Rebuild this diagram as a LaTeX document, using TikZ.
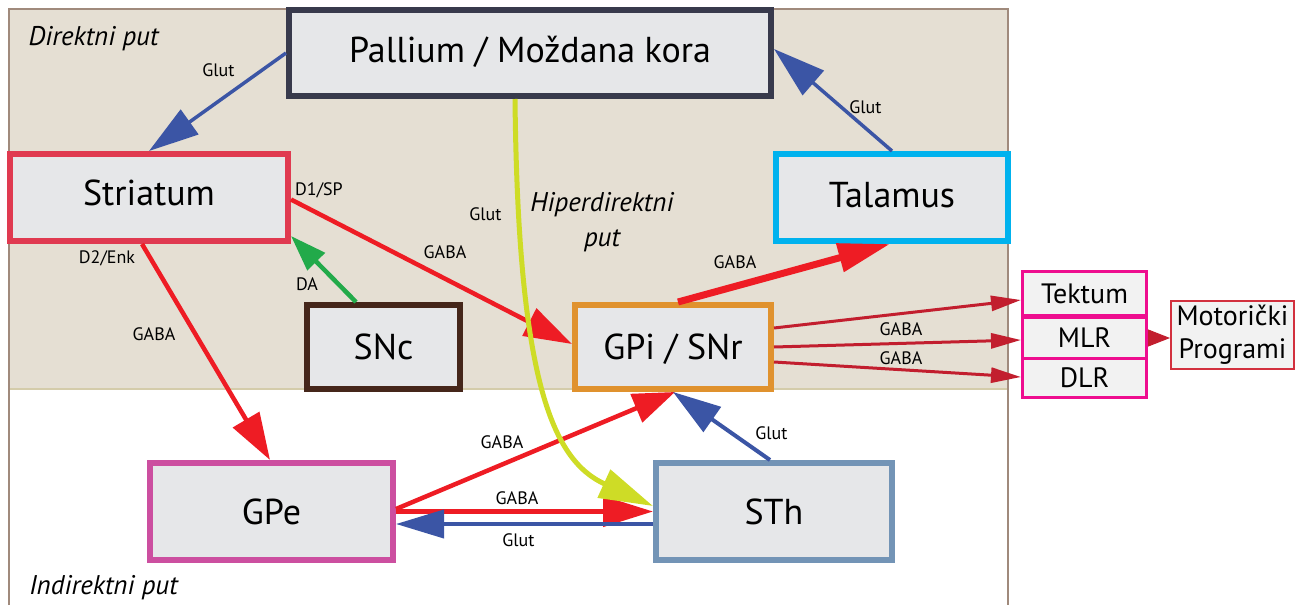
\documentclass[tikz,border=0pt]{standalone}
\usepackage{fontspec}
\setmainfont{PT Sans}
\usetikzlibrary{arrows.meta}

\definecolor{tanbg}{HTML}{E5DFD3}
\definecolor{framec}{HTML}{A08A7C}
\definecolor{tanline}{HTML}{D4CCAA}
\definecolor{boxgray}{HTML}{E6E7E9}
\definecolor{lightbox}{HTML}{F2F2F2}
\definecolor{palliumc}{HTML}{383A4C}
\definecolor{striatumc}{HTML}{E03A50}
\definecolor{talamusc}{HTML}{00B2EE}
\definecolor{sncc}{HTML}{45261A}
\definecolor{gpic}{HTML}{E0922E}
\definecolor{gpec}{HTML}{CC4FA0}
\definecolor{sthc}{HTML}{7394B6}
\definecolor{tekmag}{HTML}{EE0E8F}
\definecolor{motorc}{HTML}{D2303E}
\definecolor{glutblue}{HTML}{3B55A5}
\definecolor{gabared}{HTML}{EE1C24}
\definecolor{dagreen}{HTML}{22AA4A}
\definecolor{hyperc}{HTML}{CEDC26}
\definecolor{outred}{HTML}{C21E2E}

\begin{document}
\begin{tikzpicture}[x=1pt,y=-1pt,
  box/.style={draw, fill=boxgray, line width=6pt, inner sep=0pt,
    font=\fontsize{36}{40}\selectfont, text height=25pt, text depth=0pt},
  smallbox/.style={draw=tekmag, fill=lightbox, line width=3pt, inner sep=0pt,
    minimum width=124pt, font=\fontsize{28}{32}\selectfont, text height=19.6pt, text depth=0pt},
  lbl/.style={anchor=base, inner sep=0pt, font=\fontsize{18}{20}\selectfont},
  waylbl/.style={inner sep=0pt, font=\fontsize{27}{35}\selectfont\itshape},
  tipsz/.style 2 args={-{Triangle[length=#1,width=#2]}},
  glut/.style={draw=glutblue, line width=3.5pt},
  gaba/.style={draw=gabared, line width=4.5pt},
  gabaout/.style={draw=outred, line width=3pt, tipsz={30pt}{15pt}}
]
  \useasboundingbox (0,0) rectangle (1301,605);

  % Background of the direct path
  \fill[tanbg] (9,9) rectangle (1008,389);
  \draw[tanline, line width=2pt] (10,389) -- (1007,389);
  \draw[framec, line width=2.5pt] (9,605) -- (9,9) -- (1008,9) -- (1008,605);

  % Nuclei
  \node[box, draw=palliumc, minimum width=482pt, minimum height=86pt, text depth=7pt] (pallium) at (530,53) {Pallium / Moždana kora};
  \node[box, draw=striatumc, minimum width=278pt, minimum height=87pt, text depth=10pt] (striatum) at (149,197.5) {Striatum};
  \node[box, draw=talamusc, minimum width=232pt, minimum height=87pt, text depth=5pt] (talamus) at (892,197.5) {Talamus};
  \node[box, draw=sncc, minimum width=153pt, minimum height=84pt] (snc) at (383.5,347) {SNc};
  \node[box, draw=gpic, minimum width=196pt, minimum height=84pt] (gpi) at (673,347) {GPi / SNr};
  \node[box, draw=gpec, minimum width=243pt, minimum height=97pt] (gpe) at (271.5,511.5) {GPe};
  \node[box, draw=sthc, minimum width=236pt, minimum height=97pt] (sth) at (774,511.5) {STh};

  % Targets
  \node[smallbox, minimum height=44pt] (tektum) at (1084.5,293.5) {Tektum};
  \node[smallbox, minimum height=41pt] (mlr) at (1084.5,337.5) {MLR};
  \node[smallbox, minimum height=39pt] (dlr) at (1084.5,377.5) {DLR};
  \node[draw=motorc, fill=lightbox, line width=2pt, inner sep=0pt, minimum width=123pt, minimum height=68pt,
    align=center, font=\fontsize{28}{33}\selectfont] (motor) at (1232.5,335) {Motorički\\Programi};

  % Path names
  \node[waylbl, anchor=base] (ldirekt) at (93.5,45.5) {Direktni put};
  \node[waylbl, anchor=base] (lindirekt) at (103.5,594) {Indirektni put};
  \node[waylbl, align=center] (lhiper) at (602,222) {Hiperdirektni\\put};

  % Connections
  \draw[glut, tipsz={50pt}{30pt}] (pallium.west) -- (striatum.north);
  \draw[glut, tipsz={52pt}{32pt}] (talamus.north) -- ([yshift=4pt]pallium.east);
  \draw[gaba, tipsz={48pt}{30pt}] ([yshift=-2pt]striatum.east) -- ([yshift=3pt]gpi.west);
  \draw[gaba, tipsz={47pt}{30pt}] ([xshift=-7pt]striatum.south) -- ([xshift=-1.5pt]gpe.north);
  \draw[draw=dagreen, line width=4.5pt, tipsz={36pt}{24pt}] ([xshift=-27.5pt]snc.north) -- ([yshift=8pt]striatum.south east);
  \draw[gaba, line width=7pt, tipsz={52pt}{28pt}] ([xshift=5pt]gpi.north) -- ([xshift=-2pt]talamus.south);
  \draw[gaba, tipsz={42pt}{30pt}] ([yshift=2.5pt]gpe.east) -- ([xshift=2pt]gpi.south);
  \draw[gaba, tipsz={50pt}{30pt}] (gpe.east) -- (sth.west);
  \draw[glut, line width=4pt, tipsz={48pt}{28pt}] ([yshift=-12.5pt]sth.west) -- ([yshift=-12.5pt]gpe.east);
  \draw[glut, line width=4pt, tipsz={48pt}{30pt}] ([xshift=-4pt]sth.north) -- (gpi.south);
  \draw[draw=hyperc, line width=5pt, tipsz={54pt}{30pt}] ([xshift=-15pt]pallium.south)
    .. controls (518,380) and (552,460) .. ([yshift=5.5pt]sth.west);
  \draw[gabaout] ([yshift=19pt]gpi.east) -- ([yshift=-6.5pt]tektum.west);
  \draw[gabaout] (gpi.east) -- ([yshift=-2.5pt]mlr.west);
  \draw[gabaout] ([yshift=-15pt]gpi.east) -- ([yshift=0.5pt]dlr.west);
  \draw[draw=outred, line width=1pt, tipsz={22pt}{17pt}] ([yshift=-0.5pt]mlr.east) -- ([yshift=-3pt]motor.west);

  % Transmitter labels
  \node[lbl] (lglutps) at (218.5,76.7) {Glut};
  \node[lbl] (lglutpt) at (865.5,113) {Glut};
  \node[lbl] (ld1) at (319,195) {D1/SP};
  \node[lbl] (lglutpsth) at (485.5,220.7) {Glut};
  \node[lbl] (lgabasgpi) at (445,258) {GABA};
  \node[lbl] (ld2) at (107,263) {D2/Enk};
  \node[lbl] (lda) at (307,290) {DA};
  \node[lbl] (lgabasgpe) at (154,340.7) {GABA};
  \node[lbl] (lgabagt) at (735,268) {GABA};
  \node[lbl] (lgabaegpi) at (502,448) {GABA};
  \node[lbl] (lgabaesth) at (517,504) {GABA};
  \node[lbl] (lglutsthe) at (518.5,546.7) {Glut};
  \node[lbl] (lglutsthgpi) at (771.5,439) {Glut};
  \node[lbl] (lgabamlr) at (901,335) {GABA};
  \node[lbl] (lgabadlr) at (901,364) {GABA};

\end{tikzpicture}
\end{document}
